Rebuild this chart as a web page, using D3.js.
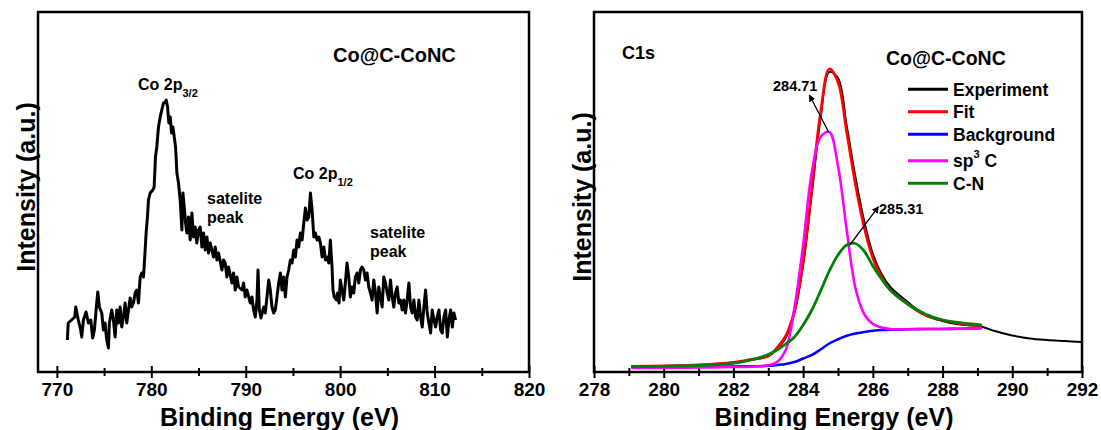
<!DOCTYPE html>
<html><head><meta charset="utf-8">
<script src="https://cdn.jsdelivr.net/npm/d3@7"></script>
<style>
body{margin:0;background:#fff}
svg text{font-family:"Liberation Sans",Arial,sans-serif;font-weight:bold;fill:#000}
</style></head><body>
<svg id="c" width="1101" height="430"></svg>
<script>
// ---------- Left panel: Co 2p ----------
const co2pEnergy = [771.11,771.20,771.55,771.89,772.00,772.27,772.52,772.63,772.81,773.09,773.34,773.59,773.79,773.97,774.22,774.33,774.50,774.75,774.93,775.10,775.28,775.46,775.56,775.81,775.99,776.17,776.34,776.52,776.70,776.87,777.05,777.23,777.40,777.58,777.76,777.93,778.11,778.29,778.46,778.64,778.82,778.99,779.17,779.35,779.45,779.59,779.70,779.88,780.16,780.30,780.44,780.58,780.76,780.94,781.11,781.29,781.47,781.58,781.72,781.86,782.00,782.15,782.29,782.43,782.57,782.71,782.88,783.06,783.24,783.35,783.49,783.63,783.77,783.94,784.12,784.30,784.47,784.65,784.82,785.00,
785.18,785.36,785.53,785.71,785.89,786.06,786.24,786.59,786.77,786.95,787.12,787.48,787.65,787.83,788.00,788.18,788.54,788.71,788.89,789.07,789.24,789.60,789.77,789.95,790.13,790.48,790.66,790.83,791.01,791.19,791.30,791.44,791.61,791.90,792.07,792.25,792.43,792.60,792.78,792.96,793.13,793.31,793.49,793.67,793.84,794.02,794.20,794.37,794.55,794.73,794.91,795.08,795.26,795.44,795.61,795.79,795.97,796.15,796.32,796.50,796.68,796.85,797.03,797.21,797.38,797.56,797.74,797.91,798.09,798.27,798.45,798.62,798.80,
798.96,799.14,799.24,799.38,799.59,799.74,799.88,800.02,800.20,800.38,800.55,800.73,800.91,801.08,801.26,801.44,801.61,801.79,801.97,802.15,802.32,802.50,802.68,802.85,803.03,803.21,803.38,803.56,803.74,803.92,804.09,804.27,804.45,804.62,804.80,804.98,805.15,805.33,805.51,805.68,805.86,806.04,806.22,806.39,806.57,806.75,806.92,807.10,807.28,807.46,807.63,807.81,807.99,808.16,808.34,808.52,808.69,808.87,809.05,809.22,809.40,809.58,809.75,809.93,810.11,810.28,810.46,810.64,810.81,810.99,811.17,811.35,811.52,811.70,811.88,812.05,812.23];
const co2pIntensity = [32,49,52,55,65,52,42,35,52,60,49,52,34,42,69,80,65,59,42,49,32,24,49,62,52,35,62,49,65,45,55,69,49,62,74,65,69,79,82,69,95,99,95,122,139,155,172,179,182,185,215,225,245,255,262,269,270,272,265,249,255,239,245,235,225,199,189,172,142,179,165,149,139,155,132,159,135,145,129,142,
145,125,139,122,135,119,129,115,125,112,119,102,112,109,95,105,89,99,82,95,85,82,89,75,82,69,75,62,55,72,102,62,54,65,59,75,92,82,65,59,62,75,89,99,82,95,75,95,102,112,109,122,115,132,125,139,132,149,164,152,155,179,162,135,139,132,135,129,115,125,112,115,109,
132,105,82,75,72,79,69,92,82,72,89,109,95,75,85,79,95,99,89,102,105,102,92,99,85,79,72,92,79,59,85,75,65,95,89,79,72,92,75,65,79,85,69,72,62,72,59,72,89,65,59,72,55,52,72,55,45,65,82,59,49,39,62,52,45,55,62,42,39,55,62,35,52,62,45,59,52];
const co2pTicks = [770,780,790,800,810,820];
const co2pMinorTicks = [775,785,795,805,815];

// ---------- Right panel: C1s ----------
const c1sEnergy = [279.1,280,281,282,282.5,283,283.25,283.5,283.75,284,284.25,284.5,284.75,285,285.25,285.5,285.75,286,286.25,286.5,287,287.5,288,288.5,289.1];
const c1sFit = [5.5,6,7,9.5,12.5,16,24,36,61,111,184,259,303,290,240,188,145,114,95,82,68,57,52,48.5,46];
const c1sBackground = [5,5,5.2,5.5,5.7,6.2,7,8,10,13.5,17,22.5,28.5,32.7,36.2,38.5,40,41.2,42,42.4,42.7,43,43,43.3,43.7];
const c1sSp3 = [4,4.2,4.5,5,5.3,6.7,10,22,64,127,200,235,240,206,142,84,58,48,44.5,43,42.7,43,43,43.3,43.7];
const c1sCN = [5.3,5.7,6.5,8.7,12,17.5,22,28,35,47,62,81,101,117,127,128.5,121,106,93,82,68,58,52,49.3,47];
const c1sExpEnergy = [279.1,280,281,282,282.5,283,283.25,283.5,283.75,284,284.25,284.5,284.75,285,285.25,285.5,285.75,286,286.25,286.5,287,287.5,288,288.5,289.1,289.5,290,290.5,291,291.5,292];
const c1sExperiment = [5.5,6,7,9.5,12,16,23,34,59,107,179,254,300,294,246,195,151,118,98,85,70,57,51,47.5,45.5,41,36.5,33.5,32,31,30];
const c1sTicks = [278,280,282,284,286,288,290,292];
const c1sMinorTicks = [279,281,283,285,287,289,291];
const legendLabels = ["Experiment","Fit","Background","sp3 C","C-N"];
const legendColors = ["#000000","#ff0000","#0000ff","#ff00ff","#008000"];

const svg = d3.select("#c");
const defs = svg.append("defs");
defs.append("marker").attr("id","arr").attr("viewBox","0 0 10 10").attr("refX",9).attr("refY",5)
  .attr("markerWidth",7).attr("markerHeight",7).attr("orient","auto-start-reverse")
  .attr("markerUnits","userSpaceOnUse")
  .append("path").attr("d","M0,0 L10,5 L0,10 z").attr("fill","#000");

const Y0 = 372, Y1 = 12;

function makePanel(x0, x1, xDomain, major, minor, titleDy) {
  const x = d3.scaleLinear().domain(xDomain).range([x0, x1]);
  const y = d3.scaleLinear().domain([0, 360]).range([Y0, Y1]);
  const g = svg.append("g");
  const ax = g.append("g").attr("transform", `translate(0,${Y0})`)
    .call(d3.axisBottom(x).tickValues(major).tickFormat(d3.format("d")).tickSize(6));
  ax.select(".domain").remove();
  ax.selectAll(".tick line").attr("y1", -6).attr("y2", 6).attr("stroke", "#000").attr("stroke-width", 2);
  ax.selectAll(".tick text").attr("y", 24).attr("dy", 0)
    .style("font-size", "19px").style("font-family", "'Liberation Sans',Arial,sans-serif").style("font-weight", "bold").attr("fill", "#000");
  const mx = g.append("g").attr("transform", `translate(0,${Y0})`)
    .call(d3.axisBottom(x).tickValues(minor).tickFormat("").tickSize(4));
  mx.select(".domain").remove();
  mx.selectAll(".tick line").attr("y1", -4).attr("y2", 4).attr("stroke", "#000").attr("stroke-width", 2);
  g.append("rect").attr("x", x0).attr("y", Y1).attr("width", x1 - x0).attr("height", Y0 - Y1)
    .attr("fill", "none").attr("stroke", "#000").attr("stroke-width", 2.5);
  g.append("text").attr("x", (x0 + x1) / 2 - 4).attr("y", 426).attr("text-anchor", "middle")
    .style("font-size", "25px").text("Binding Energy (eV)");
  g.append("text").attr("transform", `translate(${x0 - 12},${192 + titleDy}) rotate(-90)`)
    .attr("text-anchor", "middle").attr("dy", "0.35em")
    .style("font-size", "25px").text("Intensity (a.u.)");
  return {g, x, y};
}

// ---- Left panel ----
const L = makePanel(38, 529, [768, 820], co2pTicks, co2pMinorTicks, -5);
const leftData = co2pEnergy.map((e, i) => [e, co2pIntensity[i]]);
L.g.append("path").datum(leftData)
  .attr("d", d3.line().x(d => L.x(d[0])).y(d => L.y(d[1])))
  .attr("fill", "none").attr("stroke", "#000").attr("stroke-width", 3).attr("stroke-linejoin", "round");

L.g.append("text").attr("x", 333).attr("y", 62).style("font-size", "20px").text("Co@C-CoNC");
const t1 = L.g.append("text").attr("x", 138).attr("y", 90).style("font-size", "16px");
t1.append("tspan").text("Co 2p");
t1.append("tspan").attr("dy", 7).style("font-size", "11px").text("3/2");
const t2 = L.g.append("text").attr("x", 293).attr("y", 179).style("font-size", "16px");
t2.append("tspan").text("Co 2p");
t2.append("tspan").attr("dy", 7).style("font-size", "11px").text("1/2");
L.g.append("text").attr("x", 207).attr("y", 204).style("font-size", "16px").text("satelite");
L.g.append("text").attr("x", 207).attr("y", 223).style("font-size", "16px").text("peak");
L.g.append("text").attr("x", 370).attr("y", 238).style("font-size", "16px").text("satelite");
L.g.append("text").attr("x", 370).attr("y", 257).style("font-size", "16px").text("peak");

// ---- Right panel ----
const R = makePanel(594, 1082, [278, 292], c1sTicks, c1sMinorTicks, 5);
const line = d3.line().x(d => R.x(d[0])).y(d => R.y(d[1])).curve(d3.curveCatmullRom.alpha(0.5));
function series(en, vals, color, w) {
  R.g.append("path").datum(en.map((e, i) => [e, vals[i]]))
    .attr("d", line).attr("fill", "none").attr("stroke", color).attr("stroke-width", w)
    .attr("stroke-linejoin", "round").attr("stroke-linecap", "round");
}
series(c1sExpEnergy, c1sExperiment, legendColors[0], 2);
series(c1sEnergy, c1sFit, legendColors[1], 2.8);
series(c1sEnergy, c1sBackground, legendColors[2], 2.6);
series(c1sEnergy, c1sSp3, legendColors[3], 2.6);
series(c1sEnergy, c1sCN, legendColors[4], 2.8);

R.g.append("text").attr("x", 622).attr("y", 59).style("font-size", "18px").text("C1s");
R.g.append("text").attr("x", 886).attr("y", 65).style("font-size", "19.5px").text("Co@C-CoNC");

const rowsY = [89.3, 111.7, 134.3, 160.7, 183.3];
legendLabels.forEach((lab, i) => {
  R.g.append("line").attr("x1", 908).attr("x2", 948).attr("y1", rowsY[i]).attr("y2", rowsY[i])
    .attr("stroke", legendColors[i]).attr("stroke-width", 3);
  const t = R.g.append("text").attr("x", 953).attr("y", rowsY[i] + 6.3).style("font-size", "17.5px");
  if (lab === "sp3 C") {
    t.append("tspan").text("sp");
    t.append("tspan").attr("dy", -9).style("font-size", "11px").text("3");
    t.append("tspan").attr("dy", 9).text(" C");
  } else t.text(lab);
});

R.g.append("line").attr("x1", R.x(284.73)).attr("y1", R.y(240)).attr("x2", R.x(284.18)).attr("y2", R.y(277))
  .attr("stroke", "#000").attr("stroke-width", 1.3).attr("marker-end", "url(#arr)");
R.g.append("text").attr("x", 773).attr("y", 91).style("font-size", "14.5px").text("284.71");
R.g.append("line").attr("x1", R.x(285.34)).attr("y1", R.y(127)).attr("x2", R.x(286.16)).attr("y2", R.y(165.3))
  .attr("stroke", "#000").attr("stroke-width", 1.3).attr("marker-end", "url(#arr)");
R.g.append("text").attr("x", 879).attr("y", 213.5).style("font-size", "14.5px").text("285.31");
</script>
</body></html>
